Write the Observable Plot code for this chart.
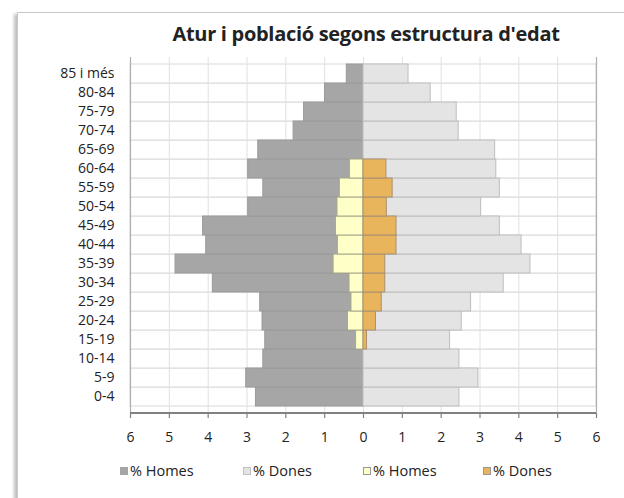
<!DOCTYPE html>
<html>
<head>
<meta charset="utf-8">
<script src="https://cdn.jsdelivr.net/npm/d3@7"></script>
<script src="https://cdn.jsdelivr.net/npm/@observablehq/plot@0.6"></script>
<style>
  html, body { margin: 0; padding: 0; background: #fff; }
  body { width: 624px; height: 498px; position: relative; overflow: hidden; font-family: "Open Sans", sans-serif; }
  #frame { position: absolute; left: 17px; top: 12px; width: 640px; height: 520px; border: 1px solid #c8c8c8; box-shadow: -3px 2px 3px rgba(0,0,0,0.25); background: #fff; }
  #title { position: absolute; left: 0; width: 624px; top: 20px; padding-left: 108px; box-sizing: border-box; text-align: center; font-weight: bold; font-size: 20px; color: #222; letter-spacing: -0.3px; }
  #chart { position: absolute; left: 0; top: 0; }
  #legend { position: absolute; top: 461px; left: 0; width: 624px; font-size: 14.5px; color: #222; }
  .item { position: absolute; display: flex; align-items: center; white-space: nowrap; }
  .sw { width: 8px; height: 8px; margin-right: 2px; box-sizing: border-box; }
  #chart svg g[aria-label="y-axis tick label"] text { font-size: 14px; }
</style>
</head>
<body>
<div id="frame"></div>
<div id="title">Atur i població segons estructura d'edat</div>
<div id="chart"></div>
<div id="legend"></div>
<script>
const ages = ["0-4","5-9","10-14","15-19","20-24","25-29","30-34","35-39","40-44","45-49","50-54","55-59","60-64","65-69","70-74","75-79","80-84","85 i més"];
const popHomes = [2.77,3.02,2.58,2.53,2.60,2.66,3.88,4.84,4.05,4.13,2.97,2.58,2.97,2.71,1.80,1.53,0.99,0.43];
const popDones = [2.47,2.96,2.47,2.23,2.53,2.77,3.61,4.30,4.07,3.51,3.03,3.51,3.42,3.39,2.45,2.40,1.73,1.16];
const aturAges = ["15-19","20-24","25-29","30-34","35-39","40-44","45-49","50-54","55-59","60-64"];
const aturHomes = [0.19,0.40,0.31,0.36,0.77,0.66,0.71,0.67,0.61,0.35];
const aturDones = [0.09,0.32,0.47,0.56,0.56,0.85,0.85,0.60,0.75,0.59];
const xTicks = [-6,-5,-4,-3,-2,-1,0,1,2,3,4,5,6];
const legendLabels = ["% Homes","% Dones","% Homes","% Dones"];

const cHomes = "#a6a6a6", cDones = "#e4e4e4", cAturH = "#ffffc8", cAturD = "#e8b45c";

const pop = ages.map((a,i) => ({age:a, h:popHomes[i], d:popDones[i]}));
const atur = aturAges.map((a,i) => ({age:a, h:aturHomes[i], d:aturDones[i]}));

const chart = Plot.plot({
  width: 624,
  height: 460,
  marginLeft: 130,
  marginRight: 28,
  marginTop: 57,
  marginBottom: 47,
  style: {fontFamily: "Open Sans, sans-serif", fontSize: "14px", color: "#222", background: "transparent"},
  x: {domain: [-6, 6], label: null},
  y: {domain: ages.slice().reverse(), padding: 0, label: null},
  marks: [
    Plot.barX(ages, {x1: -6, x2: 6, y: d => d, fill: "white", stroke: "#d9d9d9", inset: 0}),
    Plot.ruleX(xTicks, {stroke: "#e0e0e0"}),
    Plot.barX(pop, {x1: 0, x2: d => -d.h, y: "age", fill: cHomes, stroke: "#9a9a9a", inset: 0}),
    Plot.barX(pop, {x1: 0, x2: d => d.d, y: "age", fill: cDones, stroke: "#bdbdbd", inset: 0}),
    Plot.barX(atur, {x1: 0, x2: d => -d.h, y: "age", fill: cAturH, stroke: "#a8a888", inset: 0}),
    Plot.barX(atur, {x1: 0, x2: d => d.d, y: "age", fill: cAturD, stroke: "#a89070", inset: 0}),
    Plot.ruleX([-6, 6], {stroke: "#b0b0b0", strokeWidth: 1.2}),
    Plot.axisX({ticks: xTicks, tickFormat: d => Math.abs(d), tickSize: 5, tickPadding: 14, stroke: "#808080", strokeWidth: 1.2}),
    Plot.axisY({tickSize: 0, tickPadding: 16})
  ]
});
document.getElementById("chart").append(chart);
const svg = d3.select(chart);
svg.append("line")
  .attr("x1", 130).attr("x2", 596)
  .attr("y1", 413).attr("y2", 413)
  .attr("stroke", "#808080").attr("stroke-width", 2);

const legendColors = [[cHomes,"#a6a6a6"],[cDones,"#c0c0c0"],[cAturH,"#999"],[cAturD,"#999"]];
const legendX = [120, 243, 363, 483];
const lg = document.getElementById("legend");
legendLabels.forEach((t,i) => {
  const it = document.createElement("div");
  it.className = "item";
  it.style.left = legendX[i] + "px";
  const sw = document.createElement("div");
  sw.className = "sw";
  sw.style.background = legendColors[i][0];
  sw.style.border = "1px solid " + legendColors[i][1];
  it.append(sw);
  const sp = document.createElement("span");
  sp.textContent = t;
  it.append(sp);
  lg.append(it);
});
</script>
</body>
</html>
